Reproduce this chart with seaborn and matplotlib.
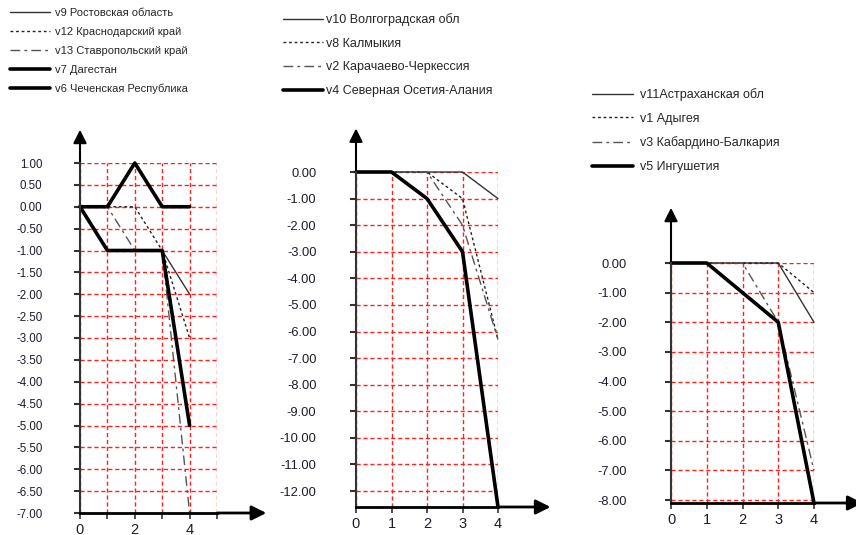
import matplotlib
matplotlib.use("Agg")
import matplotlib.pyplot as plt
import seaborn as sns
import pandas as pd
from matplotlib.ticker import FormatStrFormatter

sns.set_style("white")
plt.rcParams["font.family"] = ["Liberation Sans", "DejaVu Sans"]

steps = [0, 1, 2, 3, 4]

# Panel 1
p1_labels = ["v9 Ростовская область", "v12 Краснодарский край", "v13 Ставропольский край",
             "v7 Дагестан", "v6 Чеченская Республика"]
p1_v9 = [0, -1, -1, -1, -2]
p1_v12 = [0, 0, 0, -1, -3]
p1_v13 = [0, 0, -1, -1, -7]
p1_v7 = [0, 0, 1, 0, 0]
p1_v6 = [0, -1, -1, -1, -5]
p1_yticks = [1.0, 0.5, 0.0, -0.5, -1.0, -1.5, -2.0, -2.5, -3.0, -3.5, -4.0, -4.5,
             -5.0, -5.5, -6.0, -6.5, -7.0]
p1_xticks = [0, 1, 2, 3, 4, 5]
p1_xticklabels = ["0", "", "2", "", "4", ""]

# Panel 2
p2_labels = ["v10 Волгоградская обл", "v8 Калмыкия", "v2 Карачаево-Черкессия",
             "v4 Северная Осетия-Алания"]
p2_v10 = [0, 0, 0, 0, -1]
p2_v8 = [0, 0, 0, -1, -6.3]
p2_v2 = [0, 0, 0, -2, -6.3]
p2_v4 = [0, 0, -1, -3, -12.6]
p2_yticks = [0, -1, -2, -3, -4, -5, -6, -7, -8, -9, -10, -11, -12]
p2_xticks = [0, 1, 2, 3, 4]

# Panel 3
p3_labels = ["v11Астраханская обл", "v1 Адыгея", "v3 Кабардино-Балкария", "v5 Ингушетия"]
p3_v11 = [0, 0, 0, 0, -2]
p3_v1 = [0, 0, 0, 0, -1]
p3_v3 = [0, 0, 0, -2, -7]
p3_v5 = [0, 0, -1, -2, -8.1]
p3_yticks = [0, -1, -2, -3, -4, -5, -6, -7, -8]
p3_xticks = [0, 1, 2, 3, 4]

W, H = 856, 535
fig = plt.figure(figsize=(W / 100, H / 100), dpi=100)

STY = {
    "thin": dict(color="#333333", lw=1.0, ls="-"),
    "dot": dict(color="#222222", lw=1.0, ls=(0, (2, 2))),
    "dashdot": dict(color="#555555", lw=1.0, ls=(0, (7, 3, 2, 3))),
    "thick": dict(color="black", lw=2.6, ls="-"),
}


def px_rect(left, right, top, bottom):
    return [left / W, (H - bottom) / H, (right - left) / W, (bottom - top) / H]


def panel(rect, series, styles, labels, xlim, ylim, xticks, xticklabels, yticks,
          yfs, ypad, arrow_top, arrow_right, leg_xy, leg_fs, leg_hl, leg_tp, leg_ls):
    ax = fig.add_axes(rect)
    for vals, st, lab in zip(series, styles, labels):
        s = STY[st]
        df = pd.DataFrame({"x": steps, "y": vals})
        sns.lineplot(data=df, x="x", y="y", ax=ax, color=s["color"], linewidth=s["lw"],
                     linestyle=s["ls"], label=lab, zorder=4 if st == "thick" else 3,
                     clip_on=False)
    ax.set_xlim(*xlim)
    ax.set_ylim(*ylim)
    ax.set_xticks(xticks)
    ax.set_xticklabels(xticklabels if xticklabels else [str(t) for t in xticks])
    ax.set_yticks(yticks)
    ax.yaxis.set_major_formatter(FormatStrFormatter("%.2f"))
    ax.grid(True, color="#ff2020", linestyle=(0, (3, 2)), linewidth=1.0)
    ax.set_axisbelow(True)
    ax.set_xlabel("")
    ax.set_ylabel("")
    for sp in ["top", "right"]:
        ax.spines[sp].set_visible(False)
    ax.spines["left"].set_color("#333333")
    ax.spines["left"].set_linewidth(1.5)
    ax.spines["bottom"].set_color("black")
    ax.spines["bottom"].set_linewidth(2.0)
    ax.spines["left"].set_zorder(5)
    ax.spines["bottom"].set_zorder(5)
    ax.tick_params(axis="y", direction="out", length=4, width=1.5, color="#333333",
                   pad=ypad, labelsize=yfs, labelcolor="#1c1c2c", left=True)
    ax.tick_params(axis="x", direction="out", length=4, width=1.2, color="#333333",
                   pad=3, labelsize=10.5, labelcolor="#1c1c2c", bottom=True)
    ax.annotate("", xy=(0, arrow_top), xytext=(0, 1), xycoords="axes fraction",
                textcoords="axes fraction",
                arrowprops=dict(arrowstyle="-|>", color="black", lw=1.5,
                                mutation_scale=20, shrinkA=0, shrinkB=0),
                annotation_clip=False)
    ax.annotate("", xy=(arrow_right, 0), xytext=(1, 0), xycoords="axes fraction",
                textcoords="axes fraction",
                arrowprops=dict(arrowstyle="-|>", color="black", lw=2.0,
                                mutation_scale=22, shrinkA=0, shrinkB=0),
                annotation_clip=False)
    ax.legend(loc="upper left", bbox_to_anchor=(leg_xy[0] / W, 1 - leg_xy[1] / H),
              bbox_transform=fig.transFigure, frameon=False, fontsize=leg_fs,
              handlelength=leg_hl, handletextpad=leg_tp, labelspacing=leg_ls,
              borderpad=0, borderaxespad=0)
    return ax


panel(px_rect(80, 217, 163, 513), [p1_v9, p1_v12, p1_v13, p1_v7, p1_v6],
      ["thin", "dot", "dashdot", "thick", "thick"], p1_labels,
      (0, 5), (-7, 1), p1_xticks, p1_xticklabels, p1_yticks,
      yfs=8.3, ypad=23, arrow_top=1.095, arrow_right=1.36,
      leg_xy=(10, 8), leg_fs=8, leg_hl=3.6, leg_tp=0.45, leg_ls=0.8)

panel(px_rect(356, 498, 172, 507), [p2_v10, p2_v8, p2_v2, p2_v4],
      ["thin", "dot", "dashdot", "thick"], p2_labels,
      (0, 4), (-12.6, 0), p2_xticks, None, p2_yticks,
      yfs=9.3, ypad=24.5, arrow_top=1.13, arrow_right=1.37,
      leg_xy=(283, 13), leg_fs=9, leg_hl=3.2, leg_tp=0.25, leg_ls=0.94)

panel(px_rect(671, 814, 263, 503), [p3_v11, p3_v1, p3_v3, p3_v5],
      ["thin", "dot", "dashdot", "thick"], p3_labels,
      (0, 4), (-8.1, 0), p3_xticks, None, p3_yticks,
      yfs=9.3, ypad=28, arrow_top=1.23, arrow_right=1.34,
      leg_xy=(592, 88), leg_fs=9, leg_hl=3.3, leg_tp=0.5, leg_ls=0.94)

fig.savefig("out.png", dpi=100)
